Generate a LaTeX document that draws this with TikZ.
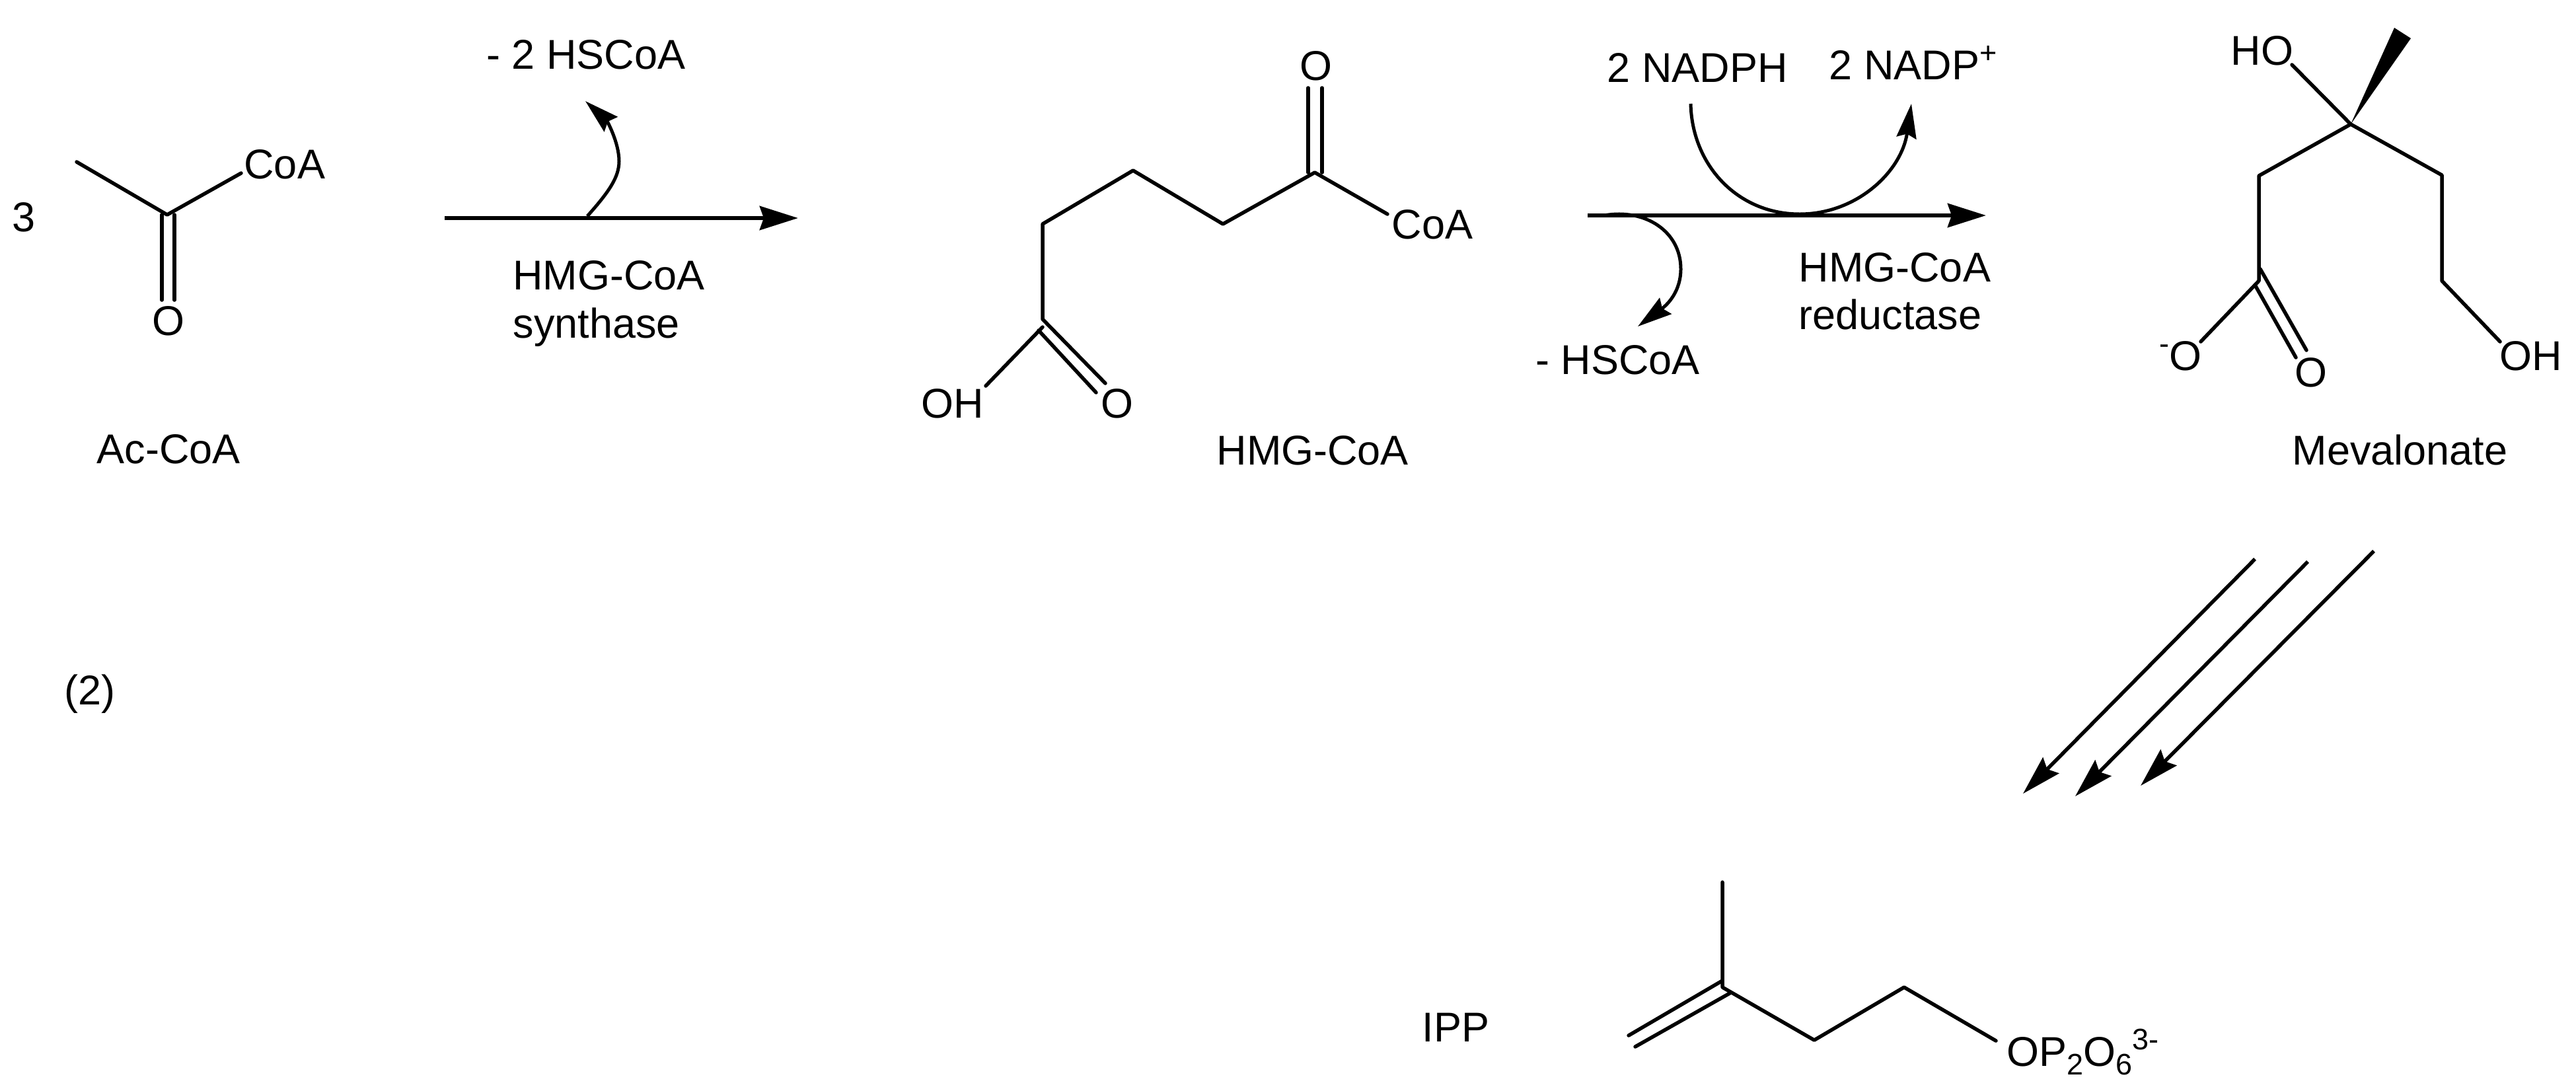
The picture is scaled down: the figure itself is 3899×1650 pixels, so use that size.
\documentclass[tikz,border=0pt]{standalone}
\usepackage{fontspec}
\setmainfont{Liberation Sans}
\usetikzlibrary{arrows.meta}
\newcommand\upsc[1]{\raisebox{25pt}{\fontsize{45}{45}\selectfont #1}}
\newcommand\dnsc[1]{\raisebox{-13pt}{\fontsize{45}{45}\selectfont #1}}
\tikzset{
  x=1pt,y=-1pt,
  lab/.style={anchor=base west,inner sep=0pt,outer sep=0pt,xshift=-1.5pt,font=\fontsize{63}{70}\selectfont},
  bond/.style={line width=5.5pt,line cap=round,line join=round},
  rxn/.style={line width=6.5pt,-{Stealth[length=58pt,width=36pt,inset=6pt]}},
  curly/.style={line width=5pt,-{Stealth[length=52pt,width=30pt,inset=6pt]}},
  long/.style={line width=5.5pt,-{Stealth[length=60pt,width=34pt,inset=8pt]}},
}
\begin{document}
\begin{tikzpicture}
\useasboundingbox (0,0) rectangle (3899,1650);
% labels
\node[lab] (three) at (20,350) {3};
\node[lab] (coa1) at (371,270) {CoA};
\node[lab] (o1) at (232,507) {O};
\node[lab] (accoa) at (148,701) {Ac-CoA};
\node[lab] (hs2) at (738,104) {- 2 HSCoA};
\node[lab] (enz1a) at (778,438) {HMG-CoA};
\node[lab] (enz1b) at (778,511) {synthase};
\node[lab] (o2) at (1969,121) {O};
\node[lab] (coa2) at (2108,361) {CoA};
\node[lab] (oh2) at (1396,632) {OH};
\node[lab] (o3) at (1668,632) {O};
\node[lab] (hmg) at (1843,703) {HMG-CoA};
\node[lab] (nadph) at (2434,124) {2 NADPH};
\node[lab] (nadp) at (2770,120) {2 NADP\upsc{+}};
\node[lab] (hs1) at (2326,566) {- HSCoA};
\node[lab] (enz2a) at (2724,426) {HMG-CoA};
\node[lab] (enz2b) at (2724,498) {reductase};
\node[lab] (ho) at (3378,98) {HO};
\node[lab] (om) at (3270,560) {\upsc{-}O};
\node[lab] (o4) at (3475,585) {O};
\node[lab] (oh4) at (3785,560) {OH};
\node[lab] (mev) at (3471,703) {Mevalonate};
\node[lab] (two) at (99,1066) {(2)};
\node[lab] (ipp) at (2154,1576) {IPP};
\node[lab] (opp) at (3039,1613) {OP\dnsc{2}O\dnsc{6}\upsc{3-}};
% Ac-CoA
\coordinate (a1) at (116,245);
\coordinate (a2) at (253,325);
\coordinate (a3) at (365,262);
\coordinate (a4) at (245,325);
\coordinate (a5) at (245,454);
\coordinate (a6) at (264,325);
\coordinate (a7) at (264,454);
\draw[bond] (a1)--(a2)--(a3);
\draw[bond] (a4)--(a5);
\draw[bond] (a6)--(a7);
% HMG-CoA
\coordinate (h1) at (1492,584);
\coordinate (h2) at (1578,483);
\coordinate (h3) at (1578,339);
\coordinate (h4) at (1715,258);
\coordinate (h5) at (1851,339);
\coordinate (h6) at (1990,261);
\coordinate (h7) at (2100,324);
\coordinate (h8) at (1980,133);
\coordinate (h9) at (1980,261);
\coordinate (h10) at (2001,133);
\coordinate (h11) at (2001,261);
\coordinate (h12) at (1673,580);
\coordinate (h13) at (1572,500);
\coordinate (h14) at (1659,594);
\coordinate (h15) at (1578,495);
\draw[bond] (h15)--(h1);
\draw[bond] (h12)--(h2)--(h3)--(h4)--(h5)--(h6)--(h7);
\draw[bond] (h13)--(h14);
\draw[bond] (h8)--(h9);
\draw[bond] (h10)--(h11);
% Mevalonate
\coordinate (m1) at (3558,188);
\coordinate (m2) at (3469,98);
\coordinate (m3) at (3624,42);
\coordinate (m4) at (3649,58);
\coordinate (m5) at (3419,266);
\coordinate (m6) at (3419,425);
\coordinate (m7) at (3696,265);
\coordinate (m8) at (3696,425);
\coordinate (m9) at (3784,517);
\coordinate (m10) at (3331,517);
\coordinate (m11) at (3421,407);
\coordinate (m12) at (3491,530);
\coordinate (m13) at (3414,433);
\coordinate (m14) at (3475,541);
\fill (m1)--(m3)--(m4)--cycle;
\draw[bond] (m2)--(m1)--(m5)--(m6)--(m10);
\draw[bond] (m1)--(m7)--(m8)--(m9);
\draw[bond] (m11)--(m12);
\draw[bond] (m13)--(m14);
% IPP
\coordinate (i1) at (2607,1335);
\coordinate (i2) at (2607,1494);
\coordinate (i3) at (2746,1574);
\coordinate (i4) at (2882,1494);
\coordinate (i5) at (3021,1575);
\coordinate (i6) at (2607,1484);
\coordinate (i7) at (2465,1567);
\coordinate (i8) at (2620,1502);
\coordinate (i9) at (2475,1584);
\draw[bond] (i1)--(i2)--(i3)--(i4)--(i5);
\draw[bond] (i6)--(i7);
\draw[bond] (i8)--(i9);
% reaction arrows
\coordinate (r1s) at (673,330);
\coordinate (r1e) at (1208,330);
\coordinate (r2s) at (2403,326);
\coordinate (r2e) at (3006,326);
\draw[rxn] (r1s)--(r1e);
\draw[rxn] (r2s)--(r2e);
% curved arrows
\coordinate (c1s) at (889,327);
\coordinate (c1m) at (937,244);
\coordinate (c1e) at (886,153);
\draw[curly] (c1s) .. controls (922,290) and (937,268) .. (c1m) .. controls (937,215) and (918,182) .. (c1e);
\coordinate (c2s) at (2428,326);
\coordinate (c2m) at (2544,407);
\coordinate (c2e) at (2479,494);
\draw[curly] (c2s) .. controls (2490,315) and (2544,350) .. (c2m) .. controls (2544,440) and (2525,460) .. (c2e);
\coordinate (c3s) at (2559,157);
\coordinate (c3m) at (2724,324);
\coordinate (c3e) at (2893,157);
\draw[curly] (c3s) .. controls (2561,250) and (2630,324) .. (c3m) .. controls (2810,324) and (2878,260) .. (c3e);
% long arrows
\coordinate (l1s) at (3413,846);
\coordinate (l1e) at (3062,1201);
\coordinate (l2s) at (3493,850);
\coordinate (l2e) at (3141,1205);
\coordinate (l3s) at (3593,834);
\coordinate (l3e) at (3240,1189);
\draw[long] (l1s)--(l1e);
\draw[long] (l2s)--(l2e);
\draw[long] (l3s)--(l3e);
\end{tikzpicture}
\end{document}
